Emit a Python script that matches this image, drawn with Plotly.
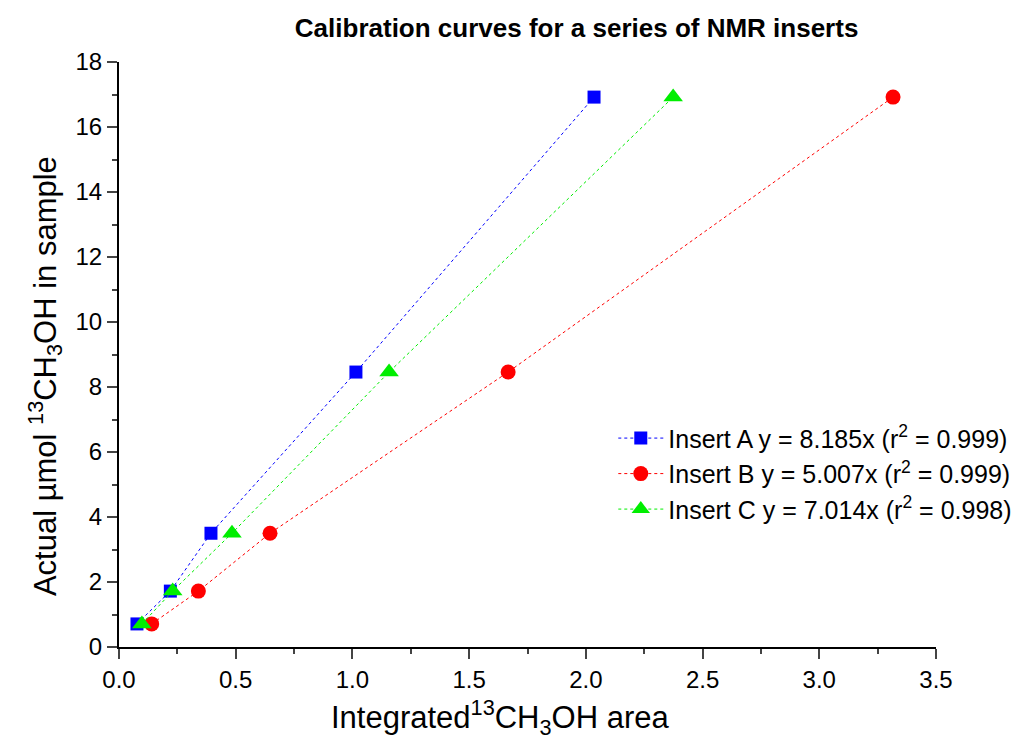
import plotly.graph_objects as go

area_a = [0.077, 0.22, 0.394, 1.015, 2.035]
umol_a = [0.71, 1.72, 3.5, 8.46, 16.92]
area_b = [0.14, 0.34, 0.647, 1.667, 3.316]
umol_b = [0.71, 1.72, 3.5, 8.46, 16.92]
area_c = [0.098, 0.23, 0.484, 1.157, 2.374]
umol_c = [0.71, 1.72, 3.5, 8.46, 16.92]

names = ["Insert A y = 8.185x (r<sup>2</sup> = 0.999)",
         "Insert B y = 5.007x (r<sup>2</sup> = 0.999)",
         "Insert C y = 7.014x (r<sup>2</sup> = 0.998)"]
x_title = "Integrated<sup>13</sup>CH<sub>3</sub>OH area"
y_title = "Actual µmol <sup>13</sup>CH<sub>3</sub>OH in sample"

fig = go.Figure()
specs = [(area_a, umol_a, "#0000ff", "square", 13),
         (area_b, umol_b, "#ff0000", "circle", 15),
         (area_c, umol_c, "#00ee00", "triangle-up", 17)]
for (x, y, c, sym, sz), n in zip(specs, names):
    fig.add_trace(go.Scatter(x=x, y=y, mode="lines+markers", name=n,
                             line=dict(color=c, width=1, dash="dot"),
                             marker=dict(color=c, symbol=sym, size=sz)))

fig.update_layout(
    width=1019, height=747,
    paper_bgcolor="white", plot_bgcolor="white",
    margin=dict(l=111, r=91, t=54, b=108, autoexpand=False),
    font=dict(family="Arial, Liberation Sans", color="black"),
    title=dict(text="<b>Calibration curves for a series of NMR inserts</b>",
               x=0.558, xanchor="center", y=0.973, yanchor="middle",
               font=dict(size=26)),
    legend=dict(x=0.605, xanchor="left", y=0.296, yanchor="middle",
                font=dict(size=25), bgcolor="rgba(0,0,0,0)", itemwidth=45,
                tracegroupgap=0),
    xaxis=dict(range=[0, 3.5], dtick=0.5, tickformat=".1f",
               showline=True, linecolor="black", linewidth=2,
               ticks="outside", ticklen=10, tickwidth=2, showgrid=False, zeroline=False,
               tickfont=dict(size=24),
               minor=dict(dtick=0.25, ticks="outside", ticklen=5, tickwidth=2)),
    yaxis=dict(range=[0, 18], dtick=2,
               showline=True, linecolor="black", linewidth=2,
               ticks="outside", ticklen=10, tickwidth=2, showgrid=False, zeroline=False,
               tickfont=dict(size=24),
               minor=dict(dtick=1, ticks="outside", ticklen=5, tickwidth=2)),
    annotations=[
        dict(text=x_title, xref="paper", yref="paper", x=0.466, y=-0.121,
             xanchor="center", yanchor="middle", showarrow=False,
             font=dict(size=31)),
        dict(text=y_title, xref="paper", yref="paper", x=-0.0906, y=0.463,
             xanchor="center", yanchor="middle", showarrow=False, textangle=-90,
             font=dict(size=31)),
    ],
)
fig.write_html("out.html")
